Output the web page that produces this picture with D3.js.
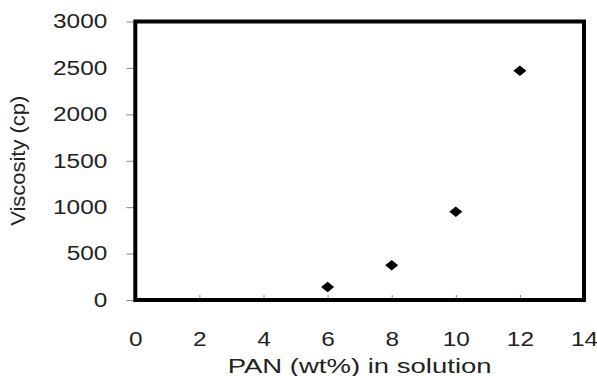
<!DOCTYPE html>
<html>
<head>
<meta charset="utf-8">
<script src="https://cdn.jsdelivr.net/npm/d3@7"></script>
<style>
  body { margin: 0; background: #fff; }
  text { font-family: "Liberation Sans", Arial, sans-serif; fill: #222; }
</style>
</head>
<body>
<div id="chart"></div>
<script>
// Data
const pan = [6, 8, 10, 12];
const viscosity = [140, 375, 950, 2470];
const xTicks = [0, 2, 4, 6, 8, 10, 12, 14];
const yTicks = [0, 500, 1000, 1500, 2000, 2500, 3000];

const width = 597, height = 376;
const margin = { top: 21.5, right: 13, bottom: 76, left: 135.3 };

const svg = d3.select("#chart").append("svg")
    .attr("width", width)
    .attr("height", height);

const x = d3.scaleLinear().domain([0, 14]).range([margin.left, width - margin.right]);
const y = d3.scaleLinear().domain([0, 3000]).range([height - margin.bottom, margin.top]);

// the source text is stretched sideways, so widen each label
const stretch = (sel, k) => sel.each(function () {
    const len = this.getComputedTextLength();
    d3.select(this).attr("textLength", len * k).attr("lengthAdjust", "spacingAndGlyphs");
});

// y axis: ticks outside on the left
const yAxis = svg.append("g")
    .attr("transform", `translate(${margin.left},0)`)
    .call(d3.axisLeft(y).tickValues(yTicks).tickFormat(d3.format("d")).tickSize(9).tickPadding(19));
yAxis.select(".domain").remove();
yAxis.selectAll("line").attr("stroke", "#888");
yAxis.selectAll("text").style("font-size", "19.5px").attr("fill", "#222").call(stretch, 1.25);

// x axis: small ticks pointing inward
const xAxis = svg.append("g")
    .attr("transform", `translate(0,${height - margin.bottom})`)
    .call(d3.axisBottom(x).tickValues(xTicks).tickFormat(d3.format("d")).tickSize(-5).tickPadding(32));
xAxis.select(".domain").remove();
xAxis.selectAll("line").attr("stroke", "#888");
xAxis.selectAll("text").style("font-size", "19.5px").attr("fill", "#222").call(stretch, 1.25);

// plot frame
svg.append("rect")
    .attr("x", x(0))
    .attr("y", y(3000))
    .attr("width", x(14) - x(0))
    .attr("height", y(0) - y(3000))
    .attr("fill", "none")
    .attr("stroke", "#000")
    .attr("stroke-width", 4);

// diamonds
const diamond = "M0,-5.3L6.5,0L0,5.3L-6.5,0Z";
svg.selectAll("path.pt")
    .data(pan.map((d, i) => ({ x: d, y: viscosity[i] })))
    .enter()
    .append("path")
    .attr("class", "pt")
    .attr("d", diamond)
    .attr("transform", d => `translate(${x(d.x)},${y(d.y)})`)
    .attr("fill", "#000");

// axis titles
svg.append("text")
    .attr("x", (x(0) + x(14)) / 2)
    .attr("y", 373)
    .attr("text-anchor", "middle")
    .style("font-size", "20.5px")
    .attr("textLength", 264)
    .attr("lengthAdjust", "spacingAndGlyphs")
    .text("PAN (wt%) in solution");

svg.append("text")
    .attr("transform", `translate(25,${(y(0) + y(3000)) / 2}) rotate(-90)`)
    .attr("text-anchor", "middle")
    .style("font-size", "20.5px")
    .attr("textLength", 130)
    .attr("lengthAdjust", "spacingAndGlyphs")
    .text("Viscosity (cp)");
</script>
</body>
</html>
